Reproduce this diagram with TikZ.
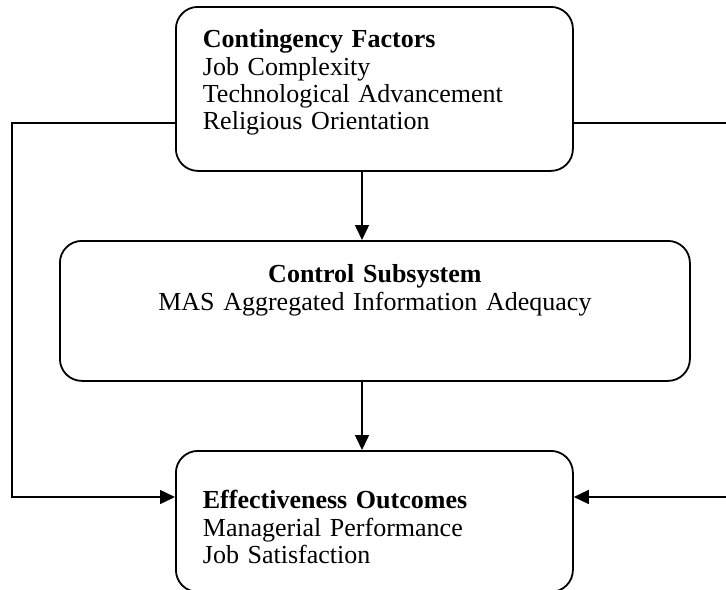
\documentclass[tikz,border=0pt]{standalone}
\usepackage{fontspec}
\setmainfont{Liberation Serif}
\usetikzlibrary{arrows.meta}

\begin{document}
\begin{tikzpicture}[x=0.5pt,y=-0.5pt,
  box/.style={draw,line width=0.9pt,rounded corners=11pt,inner ysep=0pt,inner xsep=13.5pt,
    font=\fontsize{13}{13.6}\selectfont},
  link/.style={line width=0.75pt},
  arr/.style={link,-{Triangle[length=7.5pt,width=7pt]}}]
\useasboundingbox (0,0) rectangle (726,589);

% Boxes
\node[box,anchor=north west,text width=171.5pt,align=left,text height=20.5pt,text depth=61.5pt] (factors) at (175,6)
  {\textbf{Contingency Factors}\\Job Complexity\\Technological Advancement\\Religious Orientation};
\node[box,anchor=north west,text width=288pt,align=center,text height=21pt,text depth=49pt] (control) at (59,240)
  {\textbf{Control Subsystem}\\MAS Aggregated Information Adequacy};
\node[box,anchor=north west,text width=171.5pt,align=left,text height=29pt,text depth=41.5pt] (outcomes) at (175,450)
  {\textbf{Effectiveness Outcomes}\\Managerial Performance\\Job Satisfaction};

% Bends and free ends of the side links
\coordinate (axis) at (362,0);
\coordinate (lbend) at (12,123);
\coordinate (lfoot) at (12,497);
\coordinate (rout) at (726,123);
\coordinate (rin) at (726,497);

% Links
\draw[arr] (factors.south -| axis) -- (control.north -| axis);
\draw[arr] (control.south -| axis) -- (outcomes.north -| axis);
\draw[arr] (factors.west |- lbend) -- (lbend) -- (lfoot) -- (outcomes.west |- lfoot);
\draw[link] (factors.east |- rout) -- (rout);
\draw[arr] (rin) -- (outcomes.east |- rin);
\end{tikzpicture}
\end{document}
